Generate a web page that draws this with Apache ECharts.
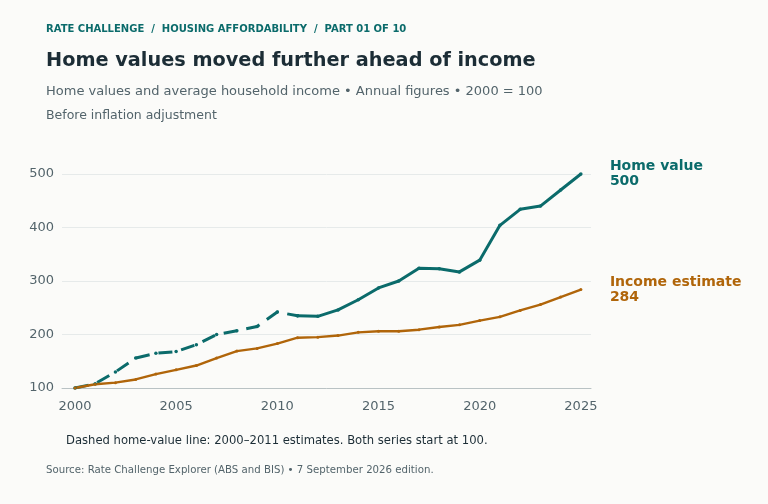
<!DOCTYPE html>
<html lang="en">
<head>
<meta charset="UTF-8">
<title>Home values vs income</title>
<style>
  html, body { margin: 0; padding: 0; background: #fbfbf9; }
  #chart { width: 768px; height: 504px; }
</style>
</head>
<body>
<div id="chart"></div>
<script src="https://cdn.jsdelivr.net/npm/echarts@6/dist/echarts.min.js"></script>
<script>
var years = [2000, 2001, 2002, 2003, 2004, 2005, 2006, 2007, 2008, 2009, 2010, 2011, 2012,
  2013, 2014, 2015, 2016, 2017, 2018, 2019, 2020, 2021, 2022, 2023, 2024, 2025];
var homeValue = [100, 108, 130, 156, 165, 168, 181, 200, 207, 215, 242, 235, 234,
  246, 265, 287, 300, 324, 323, 317, 339, 404, 434, 440, 470, 500];
var income = [100, 107, 110, 116, 126, 134, 142, 156, 169, 174, 183, 194, 195,
  198, 204, 206, 206, 209, 214, 218, 226, 233, 245, 256, 270, 284];
var yearTicks = [2000, 2005, 2010, 2015, 2020, 2025];
var estimateEnd = 2011; // last estimated year

var teal = '#0b6b6b', amber = '#b0650a';
function pairs(vals, keep) {
  var out = [];
  years.forEach(function (y, i) { if (keep(y)) out.push([y, vals[i]]); });
  return out;
}
var homeEst = pairs(homeValue, function (y) { return y <= estimateEnd; });
var homeObs = pairs(homeValue, function (y) { return y >= estimateEnd; });
var incomeData = pairs(income, function () { return true; });

var chart = echarts.init(document.getElementById('chart'));
var font = 'DejaVu Sans';

function endLabel(name, color) {
  return {
    show: true, distance: 29,
    formatter: function (p) { return name + '\n' + p.value[1]; },
    color: color, fontFamily: font, fontWeight: 'bold', fontSize: 14, lineHeight: 15
  };
}

chart.setOption({
  backgroundColor: '#fbfbf9',
  animation: false,
  textStyle: { fontFamily: font },
  title: [
    { text: 'RATE CHALLENGE  /  HOUSING AFFORDABILITY  /  PART 01 OF 10', left: 41, top: 19,
      textStyle: { fontSize: 10, fontWeight: 'bold', color: teal, fontFamily: font } },
    { text: 'Home values moved further ahead of income', left: 41, top: 46,
      textStyle: { fontSize: 19.3, fontWeight: 'bold', color: '#1c2d36', fontFamily: font } },
    { text: 'Home values and average household income • Annual figures • 2000 = 100', left: 41, top: 80,
      textStyle: { fontSize: 13, fontWeight: 'normal', color: '#53646b', fontFamily: font } },
    { text: 'Before inflation adjustment', left: 41, top: 104,
      textStyle: { fontSize: 12.5, fontWeight: 'normal', color: '#53646b', fontFamily: font } },
    { text: 'Dashed home-value line: 2000–2011 estimates. Both series start at 100.', left: 61, top: 430,
      textStyle: { fontSize: 11.6, fontWeight: 'normal', color: '#1c2d36', fontFamily: font } },
    { text: 'Source: Rate Challenge Explorer (ABS and BIS) • 7 September 2026 edition.', left: 41, top: 460,
      textStyle: { fontSize: 10.2, fontWeight: 'normal', color: '#53646b', fontFamily: font } }
  ],
  grid: { left: 62, right: 177, top: 174, bottom: 116 },
  xAxis: {
    type: 'value', min: 1999.36, max: 2025.5,
    axisLine: { show: true, lineStyle: { color: '#b9c2c4' } },
    axisTick: { show: false },
    splitLine: { show: false },
    axisLabel: { color: '#53646b', fontSize: 13, margin: 12, customValues: yearTicks,
      formatter: function (v) { return String(v); } }
  },
  yAxis: {
    type: 'value', min: 100, max: 500, interval: 100,
    axisLine: { show: false },
    axisTick: { show: false },
    axisLabel: { color: '#53646b', fontSize: 13, margin: 8 },
    splitLine: { lineStyle: { color: '#e6eaea' } }
  },
  series: [
    { name: 'Home value (estimate)', type: 'line', data: homeEst, symbol: 'circle', symbolSize: 3.5,
      showAllSymbol: true,
      lineStyle: { color: teal, width: 3, type: [14, 9] }, itemStyle: { color: teal } },
    { name: 'Home value', type: 'line', data: homeObs, symbol: 'circle', symbolSize: 3.5,
      showAllSymbol: true,
      lineStyle: { color: teal, width: 3 }, itemStyle: { color: teal },
      endLabel: endLabel('Home value', teal) },
    { name: 'Income estimate', type: 'line', data: incomeData, symbol: 'circle', symbolSize: 3,
      showAllSymbol: true,
      lineStyle: { color: amber, width: 2.4 }, itemStyle: { color: amber },
      endLabel: endLabel('Income estimate', amber) }
  ]
});
</script>
</body>
</html>
